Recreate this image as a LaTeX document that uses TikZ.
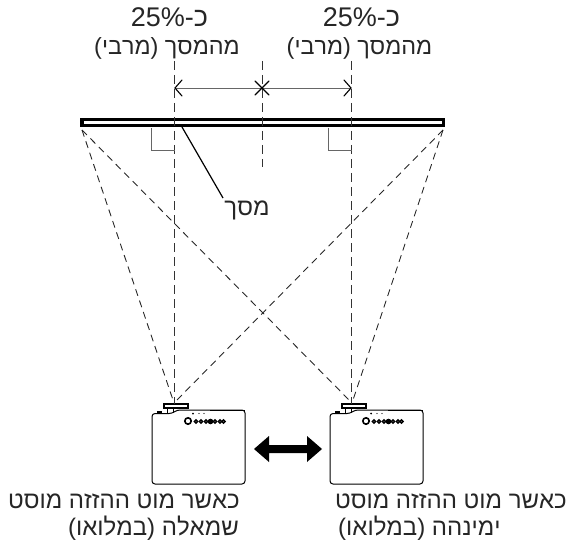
\documentclass[tikz,border=0pt]{standalone}
\usepackage{fontspec}
\setmainfont{Liberation Sans}
\TeXXeTstate=1
\tikzset{
  txt/.style={inner sep=0pt,font=\fontsize{24}{28}\selectfont,text=black!85},
  axisline/.style={dash pattern=on 9pt off 5pt,line width=0.9pt,black!80},
  ray/.style={dash pattern=on 7pt off 5pt,line width=0.9pt,black!85},
  thinline/.style={line width=0.9pt,black!60},
  dimtip/.style={line width=1.1pt,line cap=round}
}
\newcommand{\projector}[2]{%
\begin{scope}[shift={(#1,0)}]
\draw[line width=1pt,rounded corners=3pt] (0,413.5) -- (0,484) -- (93,484) -- (93,410) -- (25,410) -- (20,413.5) -- cycle;
\draw[line width=1pt] (15,408) -- (15,413.5) (21,408) -- (21,413);
\draw[fill=white,line width=1.2pt] (12,404) rectangle (36,408);
\fill (5,411) rectangle (10,414);
\draw[line width=1.8pt] (58,410.5) -- (92.5,410.5);
\draw[line width=1.6pt] (36,421) circle (3.2);
\foreach \px in {44,49,54,63,68,71.5}
  \draw[line width=1.4pt] (\px,421.5) circle (1.7);
\fill (58.5,421.5) circle (2.8);
\fill (41,413.5) circle (1) (47,413.5) circle (0.6) (52,413.5) circle (0.6);
\coordinate (#2) at (22,403);
\end{scope}}
\begin{document}
\begin{tikzpicture}[x=1pt,y=-1pt]
\useasboundingbox (0,0) rectangle (569,545);
% screen
\draw[line width=3pt] (81.5,119.8) rectangle (443.5,125.8);
\fill (80,118.3) rectangle (83.5,127.3);
\fill (441.5,118.3) rectangle (445,127.3);
\coordinate (cornerL) at (82,130);
\coordinate (cornerR) at (443,130);
% projectors
\projector{152}{lensL}
\projector{330}{lensR}
% rays
\draw[ray] (cornerL) -- (lensL);
\draw[ray] (cornerL) -- (lensR);
\draw[ray] (cornerR) -- (lensL);
\draw[ray] (cornerR) -- (lensR);
% axes
\coordinate (axisLt) at (174.5,61);
\coordinate (axisLb) at (174.5,404);
\coordinate (axisRt) at (351.5,61);
\coordinate (axisRb) at (351.5,404);
\coordinate (axisCt) at (262,61);
\coordinate (axisCb) at (262,167);
\draw[axisline] (axisLt) -- (axisLb);
\draw[axisline] (axisRt) -- (axisRb);
\draw[axisline,line width=1pt] (axisCt) -- (axisCb);
% dimension
\coordinate (dimC) at (262,88);
\coordinate (dimL) at (175,88);
\coordinate (dimR) at (351,88);
\draw[thinline] (dimL) -- (dimR);
\draw[dimtip] (182,80) -- (dimL) -- (182,96);
\draw[dimtip] (344,80) -- (dimR) -- (344,96);
\draw[dimtip] (255,81) -- (269,95) (255,95) -- (269,81);
% right angle marks
\draw[thinline] (151,128) -- (151,150) -- (174.5,150);
\draw[thinline] (328,128) -- (328,150) -- (351.5,150);
% leader
\node[txt] (lblscreen) at (247,210) {\beginR מסך\endR};
\coordinate (leadS) at (182,127);
\coordinate (leadE) at (223,198);
\draw[line width=1.2pt] (leadS) -- (leadE);
% big arrow
\fill (254,449) -- (269,436) -- (269,445) -- (307,445) -- (307,436) -- (322,449) -- (307,462) -- (307,453) -- (269,453) -- (269,462) -- cycle;
% labels
\node[txt,font=\fontsize{27}{30}\selectfont] (pctL) at (169.5,17.5) {\beginR כ-\beginL25\%\endL\endR};
\node[txt,font=\fontsize{27}{30}\selectfont] (pctR) at (361.5,17.5) {\beginR כ-\beginL25\%\endL\endR};
\node[txt,font=\fontsize{23.4}{28}\selectfont] (fromL) at (167,48) {\beginR מהמסך (מרבי)\endR};
\node[txt,font=\fontsize{23.4}{28}\selectfont] (fromR) at (359.5,48) {\beginR מהמסך (מרבי)\endR};
\node[txt,anchor=east] (whenL) at (240,501.5) {\beginR כאשר מוט ההזזה מוסט\endR};
\node[txt,anchor=east] (whenR) at (567,501.5) {\beginR כאשר מוט ההזזה מוסט\endR};
\node[txt,anchor=east] (sideL) at (239,528.5) {\beginR שמאלה (במלואו)\endR};
\node[txt,anchor=west] (sideR) at (338,528.5) {\beginR ימינהה (במלואו)\endR};
\end{tikzpicture}
\end{document}
